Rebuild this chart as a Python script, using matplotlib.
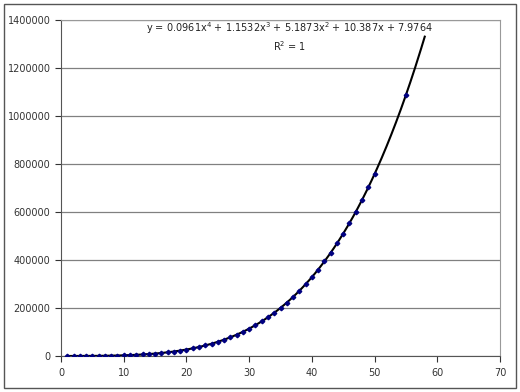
import numpy as np
import matplotlib
matplotlib.use("Agg")
import matplotlib.pyplot as plt
from matplotlib.patches import Rectangle

# ------------------------------------------------------------
# Dados
# ------------------------------------------------------------
x_data = list(range(1, 51)) + [55]
y_data = [25, 60, 125, 231, 394, 631, 961, 1407, 1993, 2745,
          3692, 4865, 6298, 8026, 10088, 12524, 15376, 18689, 22512, 26892,
          31883, 37539, 43915, 51071, 59068, 67969, 77840, 88749, 100767, 113966,
          128420, 144208, 161409, 180105, 200379, 222319, 246014, 271553, 299031, 328544,
          360189, 394067, 430280, 468934, 510135, 553994, 600621, 650132, 702642, 758270,
          1087510]

# coeficientes da linha de tendência (polinomial grau 4), do rótulo
trend_coef = [0.0961, 1.1532, 5.1873, 10.387, 7.9764]
trend_range = (1, 58)

x_ticks = list(range(0, 71, 10))
y_ticks = list(range(0, 1400001, 200000))

eq_line = "y = 0.0961x$^4$ + 1.1532x$^3$ + 5.1873x$^2$ + 10.387x + 7.9764"
r2_line = "R$^2$ = 1"

# ------------------------------------------------------------
# Plot
# ------------------------------------------------------------
fig = plt.figure(figsize=(5.2, 3.92), dpi=100)
fig.patches.append(Rectangle((0.008, 0.01), 0.984, 0.98, transform=fig.transFigure,
                             fill=False, edgecolor="#555555", linewidth=1.0))

ax = fig.add_axes([61 / 520, 1 - 356 / 392, 439 / 520, 336 / 392])

xt = np.linspace(trend_range[0], trend_range[1], 300)
ax.plot(xt, np.polyval(trend_coef, xt), color="black", linewidth=1.5, zorder=3)
ax.plot(x_data, y_data, linestyle="none", marker="D", markersize=2.3,
        color="#000080", zorder=4)

ax.set_xlim(0, 70)
ax.set_ylim(0, 1400000)
ax.set_xticks(x_ticks)
ax.set_yticks(y_ticks)
ax.set_yticklabels([str(v) for v in y_ticks])
ax.tick_params(labelsize=7, colors="#333333", length=4, width=0.8, direction="out")
ax.tick_params(axis="x", pad=5)
ax.grid(axis="y", color="#808080", linewidth=0.9)
ax.set_axisbelow(True)
for s in ["left", "bottom"]:
    ax.spines[s].set_color("#555555")
for s in ["top", "right"]:
    ax.spines[s].set_color("#999999")

ax.text(0.52, 0.999, eq_line, transform=ax.transAxes, ha="center", va="top",
        fontsize=7, color="#222222")
ax.text(0.52, 0.943, r2_line, transform=ax.transAxes, ha="center", va="top",
        fontsize=7, color="#222222")

fig.savefig("out.png", dpi=100)
